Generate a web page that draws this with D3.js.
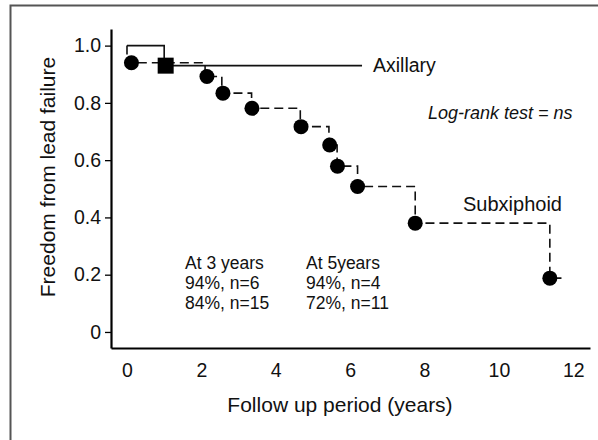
<!DOCTYPE html>
<html>
<head>
<meta charset="utf-8">
<script src="https://cdn.jsdelivr.net/npm/d3@7"></script>
<style>
  body { margin: 0; background: #fff; }
  text { font-family: "Liberation Sans", Arial, sans-serif; fill: #111; }
</style>
</head>
<body>
<svg width="598" height="440"></svg>
<script>
// Kaplan-Meier style data
var subxTimes = [0, 2.1, 2.55, 3.35, 4.66, 5.43, 5.65, 6.2, 7.75, 11.37];
var subxSurv = [0.94, 0.892, 0.834, 0.781, 0.717, 0.653, 0.579, 0.508, 0.380, 0.188];
var subxMarkTimes = [0.12, 2.15, 2.58, 3.36, 4.68, 5.45, 5.66, 6.2, 7.75, 11.37];
var subxEnd = 11.73;

var axilTimes = [0, 1.0];
var axilSurv = [1.0, 0.93];
var axilMarkTimes = [1.04];
var axilMarkSurv = [0.93];
var axilEnd = 6.32;

var xTicks = [0, 2, 4, 6, 8, 10, 12];
var yTicks = [0, 0.2, 0.4, 0.6, 0.8, 1.0];
var yTickLabels = ["0", "0.2", "0.4", "0.6", "0.8", "1.0"];

var noteLeft = ["At 3 years", "94%, n=6", "84%, n=15"];
var noteRight = ["At 5years", "94%, n=4", "72%, n=11"];

var svg = d3.select("svg");

// outer frame (only top and left visible)
svg.append("rect")
   .attr("x", 10.5).attr("y", 5.5)
   .attr("width", 620).attr("height", 460)
   .attr("fill", "none")
   .attr("stroke", "#555")
   .attr("stroke-width", 2);

var x = d3.scaleLinear().domain([-0.43, 12.45]).range([111, 590]);
var y = d3.scaleLinear().domain([-0.056, 1.058]).range([348, 29]);

var xAxis = svg.append("g")
   .attr("transform", "translate(0,348)")
   .call(d3.axisBottom(x).tickValues(xTicks).tickSize(0).tickSizeOuter(0).tickPadding(15).tickFormat(d3.format("d")));
xAxis.select(".domain").attr("stroke", "#000").attr("stroke-width", 2.2);
xAxis.selectAll("text").attr("font-size", 19.5).attr("fill", "#111");

var yAxis = svg.append("g")
   .attr("transform", "translate(111,0)")
   .call(d3.axisLeft(y).tickValues(yTicks).tickSize(6).tickSizeOuter(0).tickPadding(4)
         .tickFormat(function(d, i) { return yTickLabels[i]; }));
yAxis.select(".domain").attr("stroke", "#000").attr("stroke-width", 2.2);
yAxis.selectAll(".tick line").attr("stroke", "#000").attr("stroke-width", 1.3);
yAxis.selectAll("text").attr("font-size", 19.5).attr("fill", "#111");

svg.append("text")
   .attr("transform", "translate(48,177) rotate(-90)")
   .attr("text-anchor", "middle")
   .attr("dy", "0.35em")
   .attr("font-size", 21)
   .text("Freedom from lead failure");

svg.append("text")
   .attr("x", 340).attr("y", 412)
   .attr("text-anchor", "middle")
   .attr("font-size", 21)
   .text("Follow up period (years)");

var line = d3.line()
   .x(function(d) { return x(d.t); })
   .y(function(d) { return y(d.s); })
   .curve(d3.curveStepAfter);

// axillary (solid)
var axilPts = axilTimes.map(function(t, i) { return {t: t, s: axilSurv[i]}; });
axilPts.push({t: axilEnd, s: axilSurv[axilSurv.length - 1]});
svg.append("path")
   .attr("d", line(axilPts))
   .attr("fill", "none")
   .attr("stroke", "#111")
   .attr("stroke-width", 1.6);

// subxiphoid (dashed)
var subxPts = [{t: 0, s: 1.0}].concat(subxTimes.map(function(t, i) { return {t: t, s: subxSurv[i]}; }));
subxPts.push({t: subxEnd, s: subxSurv[subxSurv.length - 1]});
svg.append("path")
   .attr("d", line(subxPts))
   .attr("fill", "none")
   .attr("stroke", "#111")
   .attr("stroke-width", 1.6)
   .attr("stroke-dasharray", "9,5");

svg.selectAll(".dot")
   .data(subxMarkTimes)
   .enter().append("circle")
   .attr("class", "dot")
   .attr("cx", function(d) { return x(d); })
   .attr("cy", function(d, i) { return y(subxSurv[i]); })
   .attr("r", 7.5)
   .attr("fill", "#000");

svg.selectAll(".sq")
   .data(axilMarkTimes)
   .enter().append("rect")
   .attr("class", "sq")
   .attr("x", function(d) { return x(d) - 8; })
   .attr("y", function(d, i) { return y(axilMarkSurv[i]) - 8; })
   .attr("width", 16)
   .attr("height", 16)
   .attr("fill", "#000");

svg.append('text').text('Axillary')
   .attr('x', 373).attr('y', 72)
   .attr('font-size', 19.5);

svg.append('text').text('Subxiphoid')
   .attr('x', 463).attr('y', 211)
   .attr('font-size', 20);

svg.append('text').text('Log-rank test = ns')
   .attr('x', 428).attr('y', 119)
   .attr('font-size', 18)
   .attr('font-style', 'italic');

noteLeft.forEach(function(s, i) {
  svg.append('text').text(s)
     .attr('x', 185).attr('y', 269 + i * 20)
     .attr('font-size', 17.5);
});
noteRight.forEach(function(s, i) {
  svg.append('text').text(s)
     .attr('x', 306).attr('y', 269 + i * 20)
     .attr('font-size', 17.5);
});
</script>
</body>
</html>
